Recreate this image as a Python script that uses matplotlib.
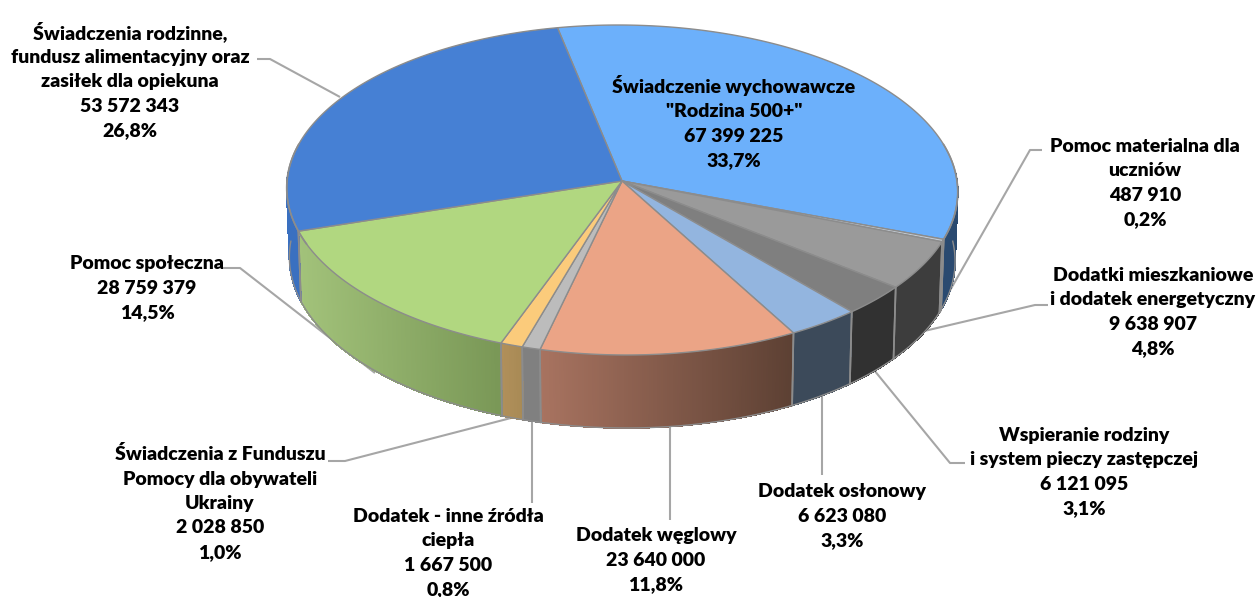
import matplotlib
matplotlib.use("Agg")
import matplotlib.pyplot as plt
import numpy as np
from matplotlib.collections import PolyCollection
from matplotlib.colors import to_rgb

plt.rcParams['font.family'] = ['Lato', 'DejaVu Sans']

names = ['Świadczenie wychowawcze\n"Rodzina 500+"',
         'Pomoc materialna dla\nuczniów',
         'Dodatki mieszkaniowe\ni dodatek energetyczny',
         'Wspieranie rodziny\ni system pieczy zastępczej',
         'Dodatek osłonowy',
         'Dodatek węglowy',
         'Dodatek - inne źródła\nciepła',
         'Świadczenia z Funduszu\nPomocy dla obywateli\nUkrainy',
         'Pomoc społeczna',
         'Świadczenia rodzinne,\nfundusz alimentacyjny oraz\nzasiłek dla opiekuna']
values = [67399225, 487910, 9638907, 6121095, 6623080,
          23640000, 1667500, 2028850, 28759379, 53572343]
percents = ['33,7%', '0,2%', '4,8%', '3,1%', '3,3%',
            '11,8%', '0,8%', '1,0%', '14,5%', '26,8%']

top_colors = ['#6cb0fb', '#c4ccd4', '#9a9a9a', '#7f7f7f', '#93b5df',
              '#eba486', '#bcbcbc', '#fbcb7b', '#b1d780', '#4680d4']
# wall colours, left and right end of the gradient
wall_left = ['#2a4a70', '#808080', '#3d3d3d', '#313131', '#3c4a5a',
             '#a87360', '#808080', '#b08f5a', '#a2c27a', '#3a70c0']
wall_right = ['#2a4a70', '#808080', '#3d3d3d', '#313131', '#3c4a5a',
              '#5c4033', '#808080', '#a88a55', '#799756', '#3a70c0']

# label centres in pixels
label_x = [734, 1145, 1153, 1084, 842, 656, 448, 220, 147, 130]
label_y = [122, 183, 312, 472, 516, 560, 553, 503, 288, 80]

# leader lines in pixels, from label to pie
leaders = [None,
           [(1042, 150), (1030, 150), (940, 308)],
           [(1048, 305), (1035, 305), (920, 332)],
           [(965, 463), (950, 463), (874, 370)],
           [(822, 475), (822, 394)],
           [(670, 520), (670, 425)],
           [(532, 503), (532, 421)],
           [(328, 461), (345, 461), (511, 418)],
           [(222, 268), (240, 268), (375, 373)],
           [(257, 59), (270, 59), (340, 97)]]

# projection of the pie
apex_x, apex_y = 622, 181
rad_x, rad_y = 335, 164.5
persp = 0.0545
skew = 0.025
start = -11.0
edge = '#8c8c8c'


def rim(theta):
    t = np.radians(theta)
    w = 1 + persp * np.cos(t)
    y = apex_y - rad_y * np.cos(t) / w
    return apex_x + rad_x * np.sin(t) / w + skew * (y - apex_y), y


def floor(theta):
    x, y = rim(theta)
    t = np.radians(theta)
    return apex_x + (x - apex_x) * 0.992, y + 69 - 4 * np.cos(t)


fig = plt.figure(figsize=(12.6, 5.97), dpi=100)
ax = fig.add_axes([0, 0, 1, 1])
ax.set_xlim(0, 1260)
ax.set_ylim(597, 0)
ax.axis('off')

cum = np.cumsum([0] + values) / sum(values) * 360 + start

# leader lines go behind the pie
for pts in leaders:
    if pts:
        xs, ys = zip(*pts)
        ax.plot(xs, ys, color='#a6a6a6', lw=1.5, zorder=1, solid_capstyle='butt')

# walls, only the part facing the viewer (about 87 to 273 degrees)
wall_from, wall_to = 87, 273
for i in range(len(values)):
    spans = [(cum[i], cum[i + 1]), (cum[i] + 360, cum[i + 1] + 360)]
    for a0, a1 in spans:
        lo, hi = max(a0, wall_from), min(a1, wall_to)
        if hi <= lo:
            continue
        th = np.linspace(lo, hi, max(2, int((hi - lo) * 3)))
        quads, cols = [], []
        xa, ya = rim(th)
        xb, yb = floor(th)
        cl, cr = np.array(to_rgb(wall_left[i])), np.array(to_rgb(wall_right[i]))
        xmin, xmax = min(xa), max(xa)
        for k in range(len(th) - 1):
            quads.append([(xa[k], ya[k]), (xa[k + 1], ya[k + 1]),
                          (xb[k + 1], yb[k + 1]), (xb[k], yb[k])])
            f = (0.5 * (xa[k] + xa[k + 1]) - xmin) / max(xmax - xmin, 1)
            cols.append(cl + (cr - cl) * f)
        ax.add_collection(PolyCollection(quads, facecolors=cols, edgecolors=cols,
                                         linewidths=0.6, antialiased=False, zorder=2))
        # lower rim and slice side edges
        ax.plot(xb, yb, color=edge, lw=1.0, zorder=3)
        for end, on in ((lo, lo > wall_from), (hi, hi < wall_to)):
            if on:
                ex, ey = rim(end)
                fx, fy = floor(end)
                ax.plot([ex, fx], [ey, fy], color=edge, lw=1.2, zorder=3)

# top faces
for i in range(len(values)):
    th = np.linspace(cum[i], cum[i + 1], max(2, int(cum[i + 1] - cum[i]) * 2))
    x, y = rim(th)
    ax.fill(np.r_[apex_x, x], np.r_[apex_y, y], facecolor=top_colors[i],
            edgecolor=edge, lw=1.0, joinstyle='round', zorder=4)

# outline at the far left and right of the pie
for a, b in ((wall_from - 10, wall_from + 25), (wall_to - 25, wall_to + 10)):
    x, y = rim(np.linspace(a, b, 40))
    ax.plot(x, y, color=edge, lw=1.2, zorder=5)

for i in range(len(values)):
    amount = f"{values[i]:,}".replace(",", " ")
    txt = f"{names[i]}\n{amount}\n{percents[i]}"
    ax.text(label_x[i], label_y[i], txt, ha='center', va='center', fontsize=14.0,
            fontweight='heavy', color='black', linespacing=1.53, zorder=6)

fig.savefig('out.png', dpi=100)
